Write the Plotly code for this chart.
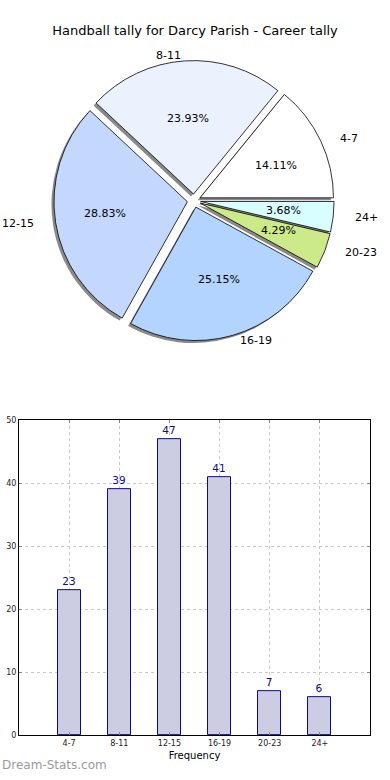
import math
import plotly.graph_objects as go

title_text = "Handball tally for Darcy Parish - Career tally"
categories = ["4-7", "8-11", "12-15", "16-19", "20-23", "24+"]
counts = [23, 39, 47, 41, 7, 6]
pie_colors = ["#ffffff", "#ebf2fe", "#c4d8fe", "#b3d4fe", "#cdea8a", "#d9feff"]
y_ticks = [0, 10, 20, 30, 40, 50]

W, H = 390, 780
FONT = "DejaVu Sans"

# pie geometry (pixels)
cx, cy, r, pull = 194, 199, 135, 0.05
half = r * (1 + pull)
# text placement radii (reference pie is slightly wider than tall)
tx, ty = 139, 128
pct_dist, lab_dist = 0.6, 1.1
# plotly's counterclockwise pies place the first slice ending at `rotation`;
# shift so the first slice starts at 3 o'clock like the reference
total = sum(counts)
rotation = 90 - 360.0 * counts[0] / total


def dom(cxp, cyp):
    return dict(x=[(cxp - half) / W, (cxp + half) / W],
                y=[1 - (cyp + half) / H, 1 - (cyp - half) / H])


fig = go.Figure()

common = dict(labels=categories, values=counts, sort=False, direction="counterclockwise",
              rotation=rotation, pull=[pull] * len(counts), hoverinfo="skip",
              showlegend=False, textinfo="none")

# shadow
fig.add_trace(go.Pie(**common, domain=dom(cx - 2.5, cy + 2.5),
                     marker=dict(colors=["#8a8a8a"] * len(counts), line=dict(width=0))))
# main pie
fig.add_trace(go.Pie(**common, domain=dom(cx, cy),
                     marker=dict(colors=pie_colors, line=dict(color="black", width=0.8))))

# slice texts, positioned from each slice's mid angle (as matplotlib does)
annotations = []
start = 0.0
for lab, v in zip(categories, counts):
    ang = start + 180.0 * v / total
    start += 360.0 * v / total
    c, s = math.cos(math.radians(ang)), math.sin(math.radians(ang))
    d = pull + pct_dist
    annotations.append(dict(text=f"{100.0 * v / total:.2f}%", xref="paper", yref="paper",
                            x=(cx + d * tx * c) / W, y=1 - (cy - d * ty * s) / H,
                            xanchor="center", yanchor="middle", showarrow=False,
                            font=dict(family=FONT, size=11, color="black")))
    d = pull + lab_dist
    annotations.append(dict(text=lab, xref="paper", yref="paper",
                            x=(cx + d * tx * c) / W, y=1 - (cy - d * ty * s) / H,
                            xanchor="left" if c > 0 else "right", yanchor="middle",
                            showarrow=False, font=dict(family=FONT, size=11, color="black")))

# bar chart
fig.add_trace(go.Bar(x=categories, y=counts, width=0.46, text=[str(v) for v in counts],
                     textposition="outside", cliponaxis=False,
                     textfont=dict(family=FONT, size=10.5, color="#0a0a8c"),
                     marker=dict(color="#cccce2", line=dict(color="#0a0a8c", width=1)),
                     showlegend=False, hoverinfo="skip"))

annotations.append(dict(text="Dream-Stats.com", xref="paper", yref="paper", x=0, y=1 - 770 / H,
                        xanchor="left", yanchor="middle", showarrow=False,
                        font=dict(family=FONT, size=12, color="#9a9a9a")))

axis_common = dict(showgrid=True, gridcolor="#c8c8c8", griddash="dot", gridwidth=1,
                   showline=True, mirror="ticks", linecolor="black", linewidth=1,
                   ticks="inside", ticklen=3, tickcolor="#888",
                   tickfont=dict(family=FONT, size=8, color="#222"), zeroline=False)

fig.update_layout(
    width=W, height=H, margin=dict(l=0, r=0, t=0, b=0),
    paper_bgcolor="white", plot_bgcolor="white",
    font=dict(family=FONT, color="black"),
    title=dict(text=title_text, x=0.5, xanchor="center", y=1 - 30 / H, yanchor="middle",
               font=dict(family=FONT, size=13, color="black")),
    xaxis=dict(domain=[19 / W, 370 / W], range=[-1, 6], type="category",
               title=dict(text="Frequency", font=dict(family=FONT, size=10, color="black"), standoff=4),
               **axis_common),
    yaxis=dict(domain=[1 - 740 / H, 1 - 421 / H], range=[0, 50], tickvals=y_ticks,
               **axis_common),
    bargap=0,
    annotations=annotations,
)

fig.write_html("out.html", config={"displayModeBar": False, "responsive": False},
               post_script="document.body.style.margin='0';")
